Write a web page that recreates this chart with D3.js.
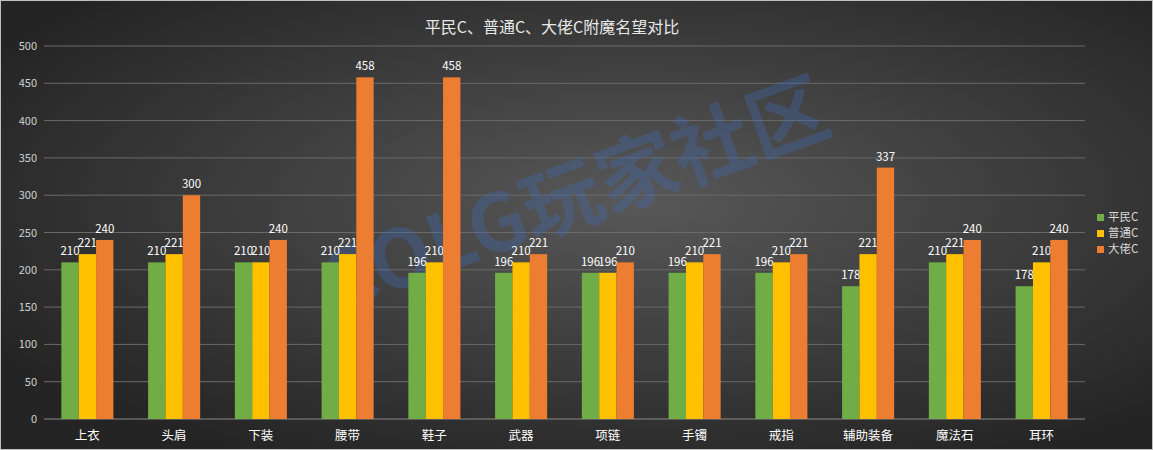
<!DOCTYPE html>
<html><head><meta charset="utf-8">
<script src="https://cdn.jsdelivr.net/npm/d3@7"></script>
<style>body{margin:0;background:#333}svg{display:block}</style></head>
<body><svg id="c" width="1153" height="450"></svg>
<script>
const categories=["上衣","头肩","下装","腰带","鞋子","武器","项链","手镯","戒指","辅助装备","魔法石","耳环"];
const seriesNames=["平民C","普通C","大佬C"];
const pingmin=[210,210,210,210,196,196,196,196,196,178,210,178];
const putong=[221,221,210,221,210,210,196,210,210,221,221,210];
const dalao=[240,300,240,458,458,221,210,221,221,337,240,240];
const yTicks=[0,50,100,150,200,250,300,350,400,450,500];
const colors=["#70ad47","#ffc000","#ed7d31"];
const series=[pingmin,putong,dalao];
const svg=d3.select("#c");
const defs=svg.append("defs");
const g=defs.append("radialGradient").attr("id","bg").attr("cx","55%").attr("cy","45%").attr("r","65%");
g.append("stop").attr("offset","0%").attr("stop-color","#585858");
g.append("stop").attr("offset","100%").attr("stop-color","#242424");
svg.append("rect").attr("x",0.5).attr("y",0.5).attr("width",1152).attr("height",449).attr("fill","url(#bg)").attr("stroke","#bfbfbf");
const font="'Noto Sans CJK SC','Microsoft YaHei',sans-serif";
const x=d3.scaleBand().domain(categories).range([44,1085]).paddingInner(0.4).paddingOuter(0.2);
const xs=d3.scaleBand().domain([0,1,2]).range([0,x.bandwidth()]);
const y=d3.scaleLinear().domain([0,500]).range([419,46]);
svg.append("g").selectAll("line").data(yTicks).join("line")
 .attr("x1",44).attr("x2",1085).attr("y1",d=>y(d)).attr("y2",d=>y(d))
 .attr("stroke",d=>d===0?"#8a8a8a":"#6a6a6a").attr("stroke-width",1);
svg.append("g").selectAll("text").data(yTicks).join("text")
 .attr("x",37).attr("y",d=>y(d)+4).attr("text-anchor","end").attr("fill","#d0d0d0")
 .attr("font-size",11).attr("font-family",font).text(d=>d);
svg.append("text").attr("transform","translate(585,222) rotate(-20)").attr("text-anchor","middle")
 .attr("font-size",80).attr("font-weight","bold").attr("font-family",font).attr("fill","#3f6fc0").attr("opacity",0.3)
 .text("COLG玩家社区");
series.forEach((s,si)=>{
 const gg=svg.append("g");
 gg.selectAll("rect").data(s).join("rect")
  .attr("x",(d,i)=>x(categories[i])+xs(si)).attr("width",xs.bandwidth())
  .attr("y",d=>y(d)).attr("height",d=>y(0)-y(d)).attr("fill",colors[si]);
 gg.selectAll("text").data(s).join("text")
  .attr("x",(d,i)=>x(categories[i])+xs(si)+xs.bandwidth()/2).attr("y",d=>y(d)-7)
  .attr("text-anchor","middle").attr("fill","#ffffff").attr("font-size",11.5).attr("font-family",font).text(d=>d);
});
svg.append("g").selectAll("text").data(categories).join("text")
 .attr("x",d=>x(d)+x.bandwidth()/2).attr("y",440).attr("text-anchor","middle")
 .attr("fill","#ffffff").attr("font-size",12.5).attr("font-family",font).text(d=>d);
svg.append("text").attr("x",552).attr("y",33).attr("text-anchor","middle").attr("fill","#e8e8e8")
 .attr("font-size",16).attr("font-family",font).text("平民C、普通C、大佬C附魔名望对比");
const lg=svg.append("g").selectAll("g").data(seriesNames).join("g").attr("transform",(d,i)=>`translate(1097,${220+i*16})`);
lg.append("rect").attr("width",7).attr("height",7).attr("y",-6).attr("fill",(d,i)=>colors[i]);
lg.append("text").attr("x",11).attr("y",1).attr("fill","#d8d8d8").attr("font-size",11.5).attr("font-family",font).text(d=>d);
</script></body></html>
